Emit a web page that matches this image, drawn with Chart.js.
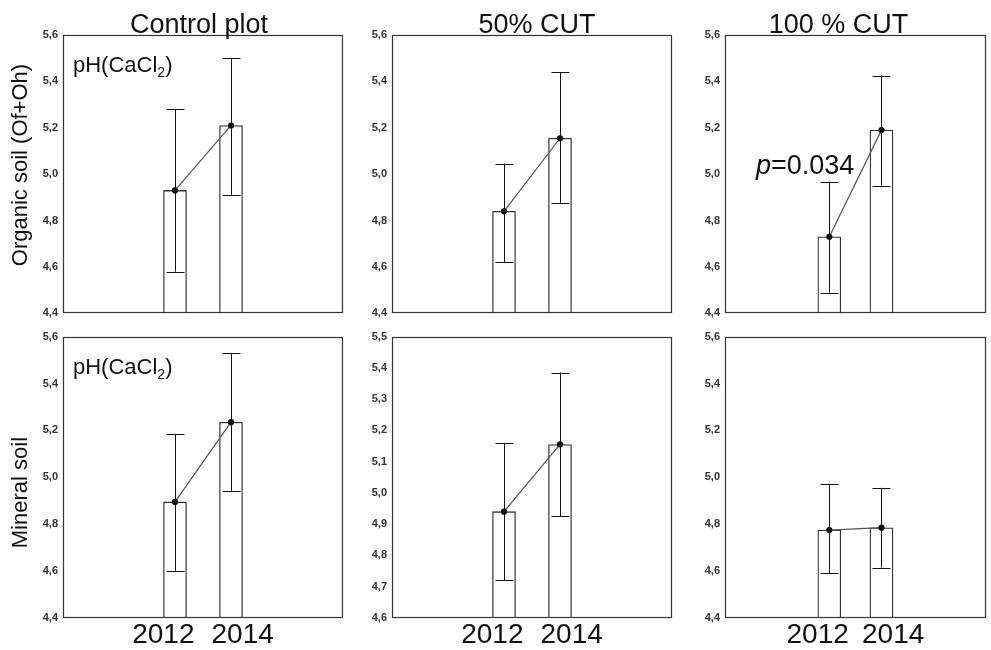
<!DOCTYPE html>
<html>
<head>
<meta charset="utf-8">
<script src="https://cdn.jsdelivr.net/npm/chart.js@4"></script>
<style>
  body { margin: 0; background: #fff; }
  #wrap { position: relative; width: 991px; height: 650px; overflow: hidden; }
  #wrap canvas { position: absolute; }
</style>
</head>
<body>
<div id="wrap"></div>
<script>
// x slots: two empty slots each side so the years sit at 2/5 and 3/5 of the panel
const slots = ['', '', '2012', '2014', '', ''];
const years = ['2012', '2014'];

// organic soil (Of+Oh)
const ctrlOrgMean = [4.93, 5.21];
const ctrlOrgLow = [4.58, 4.91];
const ctrlOrgHigh = [5.28, 5.50];
const cut50OrgMean = [4.84, 5.155];
const cut50OrgLow = [4.62, 4.875];
const cut50OrgHigh = [5.045, 5.44];
const cut100OrgMean = [4.73, 5.19];
const cut100OrgLow = [4.49, 4.95];
const cut100OrgHigh = [4.965, 5.425];

// mineral soil
const ctrlMinMean = [4.895, 5.235];
const ctrlMinLow = [4.60, 4.94];
const ctrlMinHigh = [5.185, 5.53];
const cut50MinMean = [4.94, 5.155];
const cut50MinLow = [4.72, 4.925];
const cut50MinHigh = [5.16, 5.385];
const cut100MinMean = [4.775, 4.785];
const cut100MinLow = [4.59, 4.615];
const cut100MinHigh = [4.97, 4.955];

const FONT = '"Liberation Sans", Arial, sans-serif';
Chart.defaults.font.family = FONT;
Chart.defaults.color = '#222';

// layout of the 3x2 grid
const cols = [
  { left: 0, width: 350, axisW: 63, padR: 7 },
  { left: 350, width: 330, axisW: 42, padR: 8 },
  { left: 680, width: 311, axisW: 45, padR: 2 }
];
const rows = [
  { top: 0, height: 325, padT: 35, xH: 8, showYears: false },
  { top: 325, height: 325, padT: 10, xH: 32, showYears: true }
];

// spaces nudge the rotated axis titles along the axis like in the original
const panels = [
  { row: 0, col: 0, mean: ctrlOrgMean, low: ctrlOrgLow, high: ctrlOrgHigh, min: 4.4, max: 5.6, step: 0.2,
    title: 'Control plot', titleShift: -4, yTitle: '   Organic soil (Of+Oh)', note: true },
  { row: 0, col: 1, mean: cut50OrgMean, low: cut50OrgLow, high: cut50OrgHigh, min: 4.4, max: 5.6, step: 0.2,
    title: '50% CUT', titleShift: 5 },
  { row: 0, col: 2, mean: cut100OrgMean, low: cut100OrgLow, high: cut100OrgHigh, min: 4.4, max: 5.6, step: 0.2,
    title: '100 % CUT', titleShift: -17, pText: '=0.034', pAt: 5.0 },
  { row: 1, col: 0, mean: ctrlMinMean, low: ctrlMinLow, high: ctrlMinHigh, min: 4.4, max: 5.6, step: 0.2,
    yTitle: 'Mineral soil     ', note: true },
  { row: 1, col: 1, mean: cut50MinMean, low: cut50MinLow, high: cut50MinHigh, min: 4.6, max: 5.5, step: 0.1 },
  { row: 1, col: 2, mean: cut100MinMean, low: cut100MinLow, high: cut100MinHigh, min: 4.4, max: 5.6, step: 0.2 }
];

function toSlots(vals) {
  return slots.map(s => {
    const i = years.indexOf(s);
    return i < 0 ? null : vals[i];
  });
}

const decor = {
  id: 'decor',
  afterDatasetsDraw(chart, args, o) {
    const ctx = chart.ctx;
    const x = chart.scales.x, y = chart.scales.y;
    ctx.save();
    ctx.strokeStyle = '#111';
    ctx.lineWidth = 1;
    years.forEach((yr, i) => {
      const px = Math.round(x.getPixelForValue(slots.indexOf(yr))) + 0.5;
      const hi = y.getPixelForValue(o.high[i]);
      const lo = y.getPixelForValue(o.low[i]);
      ctx.beginPath();
      ctx.moveTo(px, hi); ctx.lineTo(px, lo);
      ctx.moveTo(px - 9, Math.round(hi) + 0.5); ctx.lineTo(px + 9, Math.round(hi) + 0.5);
      ctx.moveTo(px - 9, Math.round(lo) + 0.5); ctx.lineTo(px + 9, Math.round(lo) + 0.5);
      ctx.stroke();
    });
    ctx.restore();
  },
  afterDraw(chart, args, o) {
    const ctx = chart.ctx;
    const a = chart.chartArea;
    ctx.save();
    // frame round the plot
    ctx.strokeStyle = '#333';
    ctx.lineWidth = 1.2;
    ctx.strokeRect(Math.round(a.left) + 0.5, Math.round(a.top) + 0.5,
      Math.round(a.right - a.left) - 1, Math.round(a.bottom - a.top) - 1);
    ctx.fillStyle = '#111';
    ctx.textBaseline = 'alphabetic';
    if (o.title) {
      ctx.font = '27px ' + FONT;
      ctx.textAlign = 'center';
      ctx.fillText(o.title, (a.left + a.right) / 2 + o.titleShift, a.top - 2);
    }
    if (o.note) {
      ctx.textAlign = 'left';
      let nx = a.left + 10;
      const ny = a.top + 37;
      ctx.font = '22px ' + FONT;
      ctx.fillText('pH(CaCl', nx, ny);
      nx += ctx.measureText('pH(CaCl').width;
      ctx.font = '14px ' + FONT;
      ctx.fillText('2', nx, ny + 5);
      nx += ctx.measureText('2').width;
      ctx.font = '22px ' + FONT;
      ctx.fillText(')', nx, ny);
    }
    if (o.pText) {
      const x = chart.scales.x, y = chart.scales.y;
      const right = x.getPixelForValue(slots.indexOf(years[0])) + 25;
      const base = y.getPixelForValue(o.pAt);
      ctx.textAlign = 'left';
      ctx.font = '27px ' + FONT;
      const w2 = ctx.measureText(o.pText).width;
      ctx.font = 'italic 27px ' + FONT;
      const w1 = ctx.measureText('p').width;
      ctx.fillText('p', right - w1 - w2, base);
      ctx.font = '27px ' + FONT;
      ctx.fillText(o.pText, right - w2, base);
    }
    ctx.restore();
  }
};

const wrap = document.getElementById('wrap');

panels.forEach(p => {
  const c = cols[p.col], r = rows[p.row];
  const canvas = document.createElement('canvas');
  canvas.width = c.width;
  canvas.height = r.height;
  canvas.style.left = c.left + 'px';
  canvas.style.top = r.top + 'px';
  wrap.appendChild(canvas);

  new Chart(canvas, {
    type: 'bar',
    data: {
      labels: slots,
      datasets: [
        {
          type: 'line',
          data: toSlots(p.mean),
          borderColor: '#555',
          borderWidth: 1.2,
          pointRadius: 2.5,
          pointBackgroundColor: '#111',
          pointBorderColor: '#111',
          order: 0
        },
        {
          type: 'bar',
          data: toSlots(p.mean),
          base: p.min,
          backgroundColor: '#fff',
          borderColor: '#333',
          borderWidth: 1.3,
          borderSkipped: 'start',
          barThickness: 23,
          order: 1
        }
      ]
    },
    options: {
      responsive: false,
      devicePixelRatio: 1,
      animation: false,
      layout: { padding: { top: r.padT, right: c.padR, bottom: 0, left: 0 } },
      plugins: {
        legend: { display: false },
        tooltip: { enabled: false },
        decor: {
          low: p.low, high: p.high, title: p.title, titleShift: p.titleShift || 0,
          note: p.note, pText: p.pText, pAt: p.pAt
        }
      },
      scales: {
        x: {
          offset: false,
          grid: { display: false, drawTicks: false },
          border: { display: false },
          afterFit: s => { s.height = r.xH; },
          ticks: {
            display: r.showYears,
            autoSkip: false,
            maxRotation: 0,
            padding: 0,
            color: '#111',
            font: { size: 28 },
            callback: function (v) {
              const l = this.getLabelForValue(v);
              if (l === years[0]) return l + '   ';
              if (l === years[1]) return '   ' + l;
              return l;
            }
          }
        },
        y: {
          min: p.min,
          max: p.max,
          grid: { display: false, drawTicks: false },
          border: { display: false },
          afterFit: s => { s.width = c.axisW; },
          title: {
            display: !!p.yTitle,
            text: p.yTitle || '',
            color: '#111',
            font: { size: 22 },
            padding: { top: 8, bottom: 0 }
          },
          ticks: {
            stepSize: p.step,
            padding: 5,
            color: '#333',
            font: { size: 11, weight: 'bold' },
            callback: v => v.toFixed(1).replace('.', ',')
          }
        }
      }
    },
    plugins: [decor]
  });
});
</script>
</body>
</html>
